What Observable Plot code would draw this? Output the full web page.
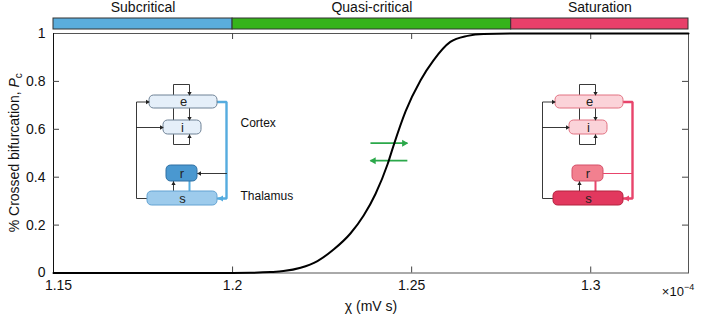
<!DOCTYPE html>
<html><head><meta charset="utf-8">
<script src="https://cdn.jsdelivr.net/npm/d3@7"></script>
<script src="https://cdn.jsdelivr.net/npm/@observablehq/plot@0.6"></script>
<style>body{margin:0;background:#fff}#chart{width:706px;height:316px}</style>
</head><body><div id="chart"></div>
<script>
// ---- data ----
const chi = [1.15, 1.2, 1.205, 1.2106, 1.2142, 1.219, 1.2237, 1.2282, 1.2329, 1.2366, 1.2399, 1.2433, 1.2449, 1.2483, 1.2525, 1.2561, 1.2608, 1.2656, 1.2701, 1.2804, 1.3273];
const pc  = [0, 0.0003, 0.001, 0.004, 0.008, 0.022, 0.05, 0.098, 0.165, 0.24, 0.33, 0.455, 0.53, 0.675, 0.805, 0.888, 0.965, 0.99, 0.998, 1, 1];
const xTicks = [1.15, 1.2, 1.25, 1.3];
const xTickLabels = ["1.15", "1.2", "1.25", "1.3"];
const yTicks = [0, 0.2, 0.4, 0.6, 0.8, 1];
const yTickLabels = ["0", "0.2", "0.4", "0.6", "0.8", "1"];
const regionNames = ["Subcritical", "Quasi-critical", "Saturation"];
const regionStart = [1.15, 1.2, 1.2778];
const regionEnd = [1.2, 1.2778, 1.3273];
const regionColors = ["#5AADDD", "#36B31B", "#E9406A"];
const xLabel = "χ (mV s)";
const yLabel = "% Crossed bifurcation, ";
const arrowFrom = [1.2385, 1.2488];
const arrowTo = [1.2488, 1.2385];
const arrowLevel = [0.542, 0.469];
const boxNames = ["e", "i", "r", "s"];
const sideLabels = ["Cortex", "Thalamus"];

// ---- layout ----
const W = 706, H = 316;
const M = {left: 53, right: 18, top: 33, bottom: 43.5};
const innerW = W - M.left - M.right, innerH = H - M.top - M.bottom;
const xDomain = [1.15, 1.3273];
const px2x = px => xDomain[0] + (px - M.left) / innerW * (xDomain[1] - xDomain[0]);
const py2y = py => (H - M.bottom - py) / innerH;
const kx = (xDomain[1] - xDomain[0]) / innerW;

// schematic layout (local pixel units)
const boxU1 = [13, 27, 30, 11], boxU2 = [81, 65, 61, 81];
const boxV1 = [11, 36, 81, 107], boxV2 = [24, 50, 97, 121];
const wires = [
  {id: "eLoop", kind: "black", pts: [[37,11],[37,0],[53,0],[53,11]], head: "down"},
  {id: "ei1", kind: "black", pts: [[37,24],[37,36]]},
  {id: "ei2", kind: "black", pts: [[53,24],[53,36]], head: "down"},
  {id: "iLoop", kind: "black", pts: [[37,50],[37,60],[53,60],[53,50]], head: "up"},
  {id: "fbE", kind: "black", pts: [[11,114],[0,114],[0,17.5],[13,17.5]], head: "right"},
  {id: "fbI", kind: "black", pts: [[0,43],[27,43]], head: "right"},
  {id: "sr", kind: "black", pts: [[37,107],[37,97]], head: "up"},
  {id: "rs", kind: "accentMid", pts: [[53,97],[53,107]]},
  {id: "es", kind: "accent", pts: [[81,17.5],[90,17.5],[90,114],[81.5,114]], head: "left"},
  {id: "toR", kind: "toR", pts: [[90,89],[61,89]], head: "left"}
];
const diagrams = [
  {id: "L", origin: [136, 84], fills: ["#E5EFF9","#E5EFF9","#4A98D0","#9DCBEC"], strokes: ["#6F8296","#6F8296","#2E6FA2","#62A2D2"], accent: "#55ACDF", toR: "black", labels: true},
  {id: "R", origin: [542, 84], fills: ["#FBD3D9","#FBD3D9","#F2808F","#E2385E"], strokes: ["#E27282","#E27282","#D44E68","#B3223F"], accent: "#E8446B", toR: "accentThin", labels: false}
];
const dirs = {up: [0,-1, 0], down: [0,1,180], left: [-1,0,270], right: [1,0,90]};

const boxRows = [], wireRows = [], headRows = [], sideRows = [];
for (const d of diagrams) {
  const [ox, oy] = d.origin;
  boxNames.forEach((name, i) => {
    boxRows.push({name, x1: px2x(ox + boxU1[i]), x2: px2x(ox + boxU2[i]), y1: py2y(oy + boxV1[i]), y2: py2y(oy + boxV2[i]), fill: d.fills[i], stroke: d.strokes[i]});
  });
  for (const w of wires) {
    const kind = w.kind === "toR" ? d.toR : w.kind;
    const stroke = kind === "black" ? "#222" : d.accent;
    const sw = kind === "black" ? 0.9 : kind === "accent" ? 2.4 : kind === "accentMid" ? 2 : 1;
    for (const [u, v] of w.pts) wireRows.push({x: px2x(ox + u), y: py2y(oy + v), z: d.id + w.id, stroke, sw});
    if (w.head && kind !== "accentThin") {
      const big = kind === "accent";
      const r = big ? 2.3 : 1.6;
      const tip = 2 * Math.sqrt(Math.PI * r * r / (3 * Math.sqrt(3)));
      const [u, v] = w.pts[w.pts.length - 1];
      const [dx, dy, rot] = dirs[w.head];
      headRows.push({x: px2x(ox + u - dx * tip * 0.9), y: py2y(oy + v - dy * tip * 0.9), rot, fill: stroke, big});
    }
  }
  if (d.labels) {
    sideRows.push({text: sideLabels[0], x: px2x(ox + 104), y: py2y(oy + 39)});
    sideRows.push({text: sideLabels[1], x: px2x(ox + 104), y: py2y(oy + 112)});
  }
}
const curve = chi.map((x, i) => ({x, y: pc[i]}));
const regions = regionNames.map((name, i) => ({name, x1: regionStart[i], x2: regionEnd[i], fill: regionColors[i]}));
const greenArrows = arrowFrom.map((x1, i) => ({x1, x2: arrowTo[i], y: arrowLevel[i]}));
const greenHeads = greenArrows.map(a => {
  const s = Math.sign(a.x2 - a.x1);
  return {x: a.x2 - s * 3.2 * kx, y: a.y, rot: s > 0 ? 90 : 270};
});
const green = "#2BA84A";
const barTop = py2y(18), barBot = py2y(29);
const fmtX = d => xTickLabels[xTicks.indexOf(d)];

const plot = Plot.plot({
  width: W, height: H,
  marginLeft: M.left, marginRight: M.right, marginTop: M.top, marginBottom: M.bottom,
  x: {domain: xDomain},
  y: {domain: [0, 1]},
  color: {type: "identity"},
  style: {fontFamily: "'Liberation Sans', Arial, sans-serif", fontSize: "14px", color: "#111", background: "#fff"},
  marks: [
    Plot.frame({stroke: "#555"}),
    Plot.ruleX([xDomain[0]], {stroke: "#111"}),
    Plot.tickX(xTicks.slice(1), {x: d => d, insetTop: innerH - 6, stroke: "#444"}),
    Plot.tickX(xTicks.slice(1), {x: d => d, insetBottom: innerH - 6, stroke: "#444"}),
    Plot.tickY(yTicks.slice(1, -1), {y: d => d, insetRight: innerW - 6, stroke: "#444"}),
    Plot.tickY(yTicks.slice(1, -1), {y: d => d, insetLeft: innerW - 6, stroke: "#444"}),
    Plot.axisX(xTicks.slice(1), {tickSize: 0, tickPadding: 7, tickFormat: fmtX, label: null, fontSize: 14}),
    Plot.axisX(xTicks.slice(0, 1), {tickSize: 0, tickPadding: 7, tickFormat: fmtX, label: null, fontSize: 14, dx: 5}),
    Plot.axisY(yTicks, {tickSize: 0, tickPadding: 8, tickFormat: d => yTickLabels[yTicks.indexOf(d)], label: null, fontSize: 14}),
    Plot.text([xLabel], {frameAnchor: "bottom", lineAnchor: "middle", dy: 34, fontSize: 14, fill: "#111"}),
    Plot.rect(regions, {x1: "x1", x2: "x2", y1: barBot, y2: barTop, fill: "fill", stroke: "#333", strokeWidth: 1}),
    Plot.text(regions, {x: d => (d.x1 + d.x2) / 2, y: py2y(7.5), text: "name", fontSize: 14, fill: "#111"}),
    Plot.line(wireRows, {x: "x", y: "y", z: "z", stroke: "stroke", strokeWidth: "sw", strokeLinejoin: "miter"}),
    Plot.rect(boxRows, {x1: "x1", x2: "x2", y1: "y1", y2: "y2", fill: "fill", stroke: "stroke", rx: 4.5, strokeWidth: 1}),
    Plot.text(boxRows, {x: d => (d.x1 + d.x2) / 2, y: d => (d.y1 + d.y2) / 2, text: "name", fontSize: 13, fill: "#222"}),
    Plot.dot(headRows.filter(d => !d.big), {x: "x", y: "y", symbol: "triangle", r: 1.6, rotate: "rot", fill: "fill", stroke: null}),
    Plot.dot(headRows.filter(d => d.big), {x: "x", y: "y", symbol: "triangle", r: 2.3, rotate: "rot", fill: "fill", stroke: null}),
    Plot.text(sideRows, {x: "x", y: "y", text: "text", textAnchor: "start", fontSize: 12, fill: "#111"}),
    Plot.link(greenArrows, {x1: "x1", x2: "x2", y1: "y", y2: "y", stroke: green, strokeWidth: 1.8}),
    Plot.dot(greenHeads, {x: "x", y: "y", symbol: "triangle", r: 2.6, rotate: "rot", fill: green, stroke: null}),
    Plot.line(curve, {x: "x", y: "y", stroke: "#000", strokeWidth: 2, curve: "monotone-x"})
  ]
});
document.getElementById("chart").appendChild(plot);

// y-axis title with italic P and subscript c, and the x-axis exponent
const svg = d3.select(plot);
const yt = svg.append("text")
  .attr("transform", `translate(18.5,${M.top + innerH / 2}) rotate(-90)`)
  .attr("text-anchor", "middle")
  .attr("font-size", 14).attr("fill", "#111");
yt.append("tspan").text(yLabel);
yt.append("tspan").attr("font-style", "italic").text("P");
yt.append("tspan").attr("font-size", 10).attr("dy", 3).text("c");
const ex = svg.append("text").attr("x", 678).attr("y", 295.5).attr("font-size", 13).attr("fill", "#111");
ex.append("tspan").text("×10");
ex.append("tspan").attr("font-size", 9).attr("dy", -6).text("−4");
</script>
</body></html>
